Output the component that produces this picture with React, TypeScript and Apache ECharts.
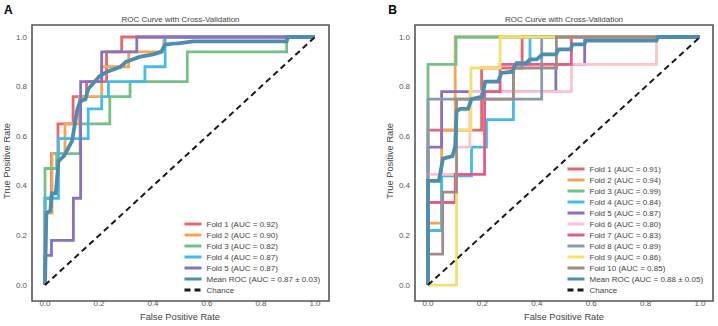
import { useEffect, useRef } from "react";
import * as echarts from "echarts";

const FONT = "'Liberation Sans', Arial, Helvetica, sans-serif";

type Pt = [number, number];

// ---------- Panel A: 5-fold cross-validation ----------
const foldA1: Pt[] = [[0, 0], [0, 0.35], [0.024, 0.35], [0.024, 0.53], [0.048, 0.53], [0.048, 0.65], [0.104, 0.65], [0.104, 0.76], [0.154, 0.76], [0.154, 0.82], [0.228, 0.82], [0.228, 0.94], [0.284, 0.94], [0.284, 1], [1, 1]];
const foldA2: Pt[] = [[0, 0], [0, 0.29], [0.026, 0.29], [0.026, 0.53], [0.074, 0.53], [0.074, 0.65], [0.127, 0.65], [0.127, 0.76], [0.21, 0.76], [0.21, 0.88], [0.31, 0.88], [0.31, 0.94], [0.44, 0.94], [0.44, 1], [1, 1]];
const foldA3: Pt[] = [[0, 0], [0, 0.47], [0.043, 0.47], [0.043, 0.53], [0.13, 0.53], [0.13, 0.65], [0.24, 0.65], [0.24, 0.76], [0.315, 0.76], [0.315, 0.82], [0.527, 0.82], [0.527, 0.94], [0.895, 0.94], [0.895, 1], [1, 1]];
const foldA4: Pt[] = [[0, 0], [0, 0.35], [0.05, 0.35], [0.05, 0.59], [0.16, 0.59], [0.16, 0.71], [0.21, 0.71], [0.21, 0.76], [0.235, 0.76], [0.235, 0.82], [0.37, 0.82], [0.37, 0.88], [0.445, 0.88], [0.445, 1], [1, 1]];
const foldA5: Pt[] = [[0, 0], [0, 0.12], [0.024, 0.12], [0.024, 0.18], [0.105, 0.18], [0.105, 0.35], [0.132, 0.35], [0.132, 0.82], [0.21, 0.82], [0.21, 0.94], [0.34, 0.94], [0.34, 1], [1, 1]];
const meanA: Pt[] = [[0, 0], [0.005, 0.29], [0.02, 0.3], [0.025, 0.37], [0.04, 0.37], [0.05, 0.5], [0.07, 0.52], [0.1, 0.58], [0.12, 0.71], [0.13, 0.74], [0.15, 0.75], [0.16, 0.79], [0.2, 0.84], [0.23, 0.86], [0.28, 0.88], [0.3, 0.9], [0.35, 0.92], [0.4, 0.93], [0.43, 0.94], [0.445, 0.97], [0.5, 0.975], [0.55, 0.982], [0.895, 0.982], [0.9, 1], [1, 1]];
const aucA = [0.92, 0.9, 0.82, 0.87, 0.87];
const meanAucA = "0.87 ± 0.03";

// ---------- Panel B: 10-fold cross-validation ----------
const foldB1: Pt[] = [[0, 0], [0, 0.625], [0.197, 0.625], [0.197, 0.875], [0.346, 0.875], [0.346, 1], [1, 1]];
const foldB2: Pt[] = [[0, 0], [0, 0.25], [0.05, 0.25], [0.05, 0.625], [0.1, 0.625], [0.1, 1], [1, 1]];
const foldB3: Pt[] = [[0, 0], [0, 0.89], [0.103, 0.89], [0.103, 1], [1, 1]];
const foldB4: Pt[] = [[0, 0], [0, 0.22], [0.05, 0.22], [0.05, 0.44], [0.16, 0.44], [0.16, 0.556], [0.215, 0.556], [0.215, 0.667], [0.314, 0.667], [0.314, 0.89], [0.375, 0.89], [0.375, 1], [1, 1]];
const foldB5: Pt[] = [[0, 0], [0, 0.556], [0.05, 0.556], [0.05, 0.78], [0.47, 0.78], [0.47, 0.89], [0.576, 0.89], [0.576, 1], [1, 1]];
const foldB6: Pt[] = [[0, 0], [0, 0.446], [0.105, 0.446], [0.105, 0.556], [0.154, 0.556], [0.154, 0.78], [0.527, 0.78], [0.527, 0.89], [0.84, 0.89], [0.84, 1], [1, 1]];
const foldB7: Pt[] = [[0, 0], [0, 0.333], [0.1, 0.333], [0.1, 0.446], [0.208, 0.446], [0.208, 0.78], [0.265, 0.78], [0.265, 0.89], [0.527, 0.89], [0.527, 1], [1, 1]];
const foldB8: Pt[] = [[0, 0], [0, 0.75], [0.418, 0.75], [0.418, 1], [1, 1]];
const foldB9: Pt[] = [[0, 0], [0.105, 0], [0.105, 0.625], [0.158, 0.625], [0.158, 0.875], [0.265, 0.875], [0.265, 1], [1, 1]];
const foldB10: Pt[] = [[0, 0], [0, 0.125], [0.054, 0.125], [0.054, 0.375], [0.105, 0.375], [0.105, 0.75], [0.314, 0.75], [0.314, 0.875], [0.472, 0.875], [0.472, 1], [1, 1]];
const meanB: Pt[] = [[0, 0], [0, 0.42], [0.04, 0.42], [0.055, 0.51], [0.09, 0.52], [0.1, 0.56], [0.105, 0.7], [0.118, 0.71], [0.147, 0.71], [0.16, 0.75], [0.2, 0.76], [0.21, 0.82], [0.257, 0.82], [0.27, 0.855], [0.31, 0.86], [0.325, 0.895], [0.36, 0.895], [0.375, 0.91], [0.4, 0.91], [0.42, 0.93], [0.47, 0.93], [0.48, 0.95], [0.525, 0.95], [0.53, 0.97], [0.575, 0.97], [0.58, 0.985], [0.84, 0.985], [0.845, 1], [1, 1]];
const aucB = [0.91, 0.94, 0.99, 0.84, 0.87, 0.8, 0.83, 0.89, 0.86, 0.85];
const meanAucB = "0.88 ± 0.05";

const chance: Pt[] = [[0, 0], [1, 1]];

const foldsA = [foldA1, foldA2, foldA3, foldA4, foldA5];
const foldsB = [foldB1, foldB2, foldB3, foldB4, foldB5, foldB6, foldB7, foldB8, foldB9, foldB10];

const palette = [
  "#e3686f", // red
  "#f6a556", // orange
  "#74c184", // green
  "#45bbec", // blue
  "#8c70c0", // purple
  "#ffc2c8", // light pink
  "#e85a8a", // magenta
  "#869cab", // slate
  "#f4e070", // yellow
  "#a28b85", // brown
];
const meanColor = "#4d8dae";

const axisTicks = [0, 0.2, 0.4, 0.6, 0.8, 1.0];

const fmt = (v: number) => v.toFixed(2);

function foldName(i: number, auc: number) {
  return `Fold ${i + 1} (AUC = ${fmt(auc)})`;
}

export default function App() {
  const ref = useRef<HTMLDivElement>(null);

  useEffect(() => {
    if (!ref.current) return;
    const chart = echarts.init(ref.current, undefined, { renderer: "svg" });

    const series: any[] = [];
    const legendA: string[] = [];
    const legendB: string[] = [];

    const line = (name: string, data: Pt[], color: string, width: number, idx: number, z: number, dashed = false) => ({
      type: "line",
      name,
      data,
      xAxisIndex: idx,
      yAxisIndex: idx,
      symbol: "none",
      showSymbol: false,
      clip: false,
      z,
      lineStyle: { color, width, type: dashed ? [6, 4] : "solid", cap: "butt", join: "miter" },
      itemStyle: { color },
      emphasis: { disabled: true },
    });

    foldsA.forEach((d, i) => {
      const n = foldName(i, aucA[i]);
      legendA.push(n);
      series.push(line(n, d, palette[i], 2.8, 0, 2 + i));
    });
    const meanNameA = `Mean ROC (AUC = ${meanAucA})`;
    legendA.push(meanNameA, "Chance");
    series.push(line(meanNameA, meanA, meanColor, 3.8, 0, 20));
    series.push(line("Chance", chance, "#1a1a1a", 2, 0, 21, true));

    foldsB.forEach((d, i) => {
      const n = foldName(i, aucB[i]) + "\u200b";
      legendB.push(n);
      series.push(line(n, d, palette[i], 2.8, 1, 2 + i));
    });
    const meanNameB = `Mean ROC (AUC = ${meanAucB})`;
    legendB.push(meanNameB, "Chance");
    series.push(line(meanNameB, meanB, meanColor, 3.8, 1, 20));
    series.push(line("Chance", chance, "#1a1a1a", 2, 1, 21, true));

    const grids = [
      { left: 45, top: 37, width: 270, height: 252 },
      { left: 428, top: 37, width: 272, height: 252 },
    ];
    const frames = [
      { x: 32, y: 25, width: 297, height: 276 },
      { x: 415, y: 25, width: 298, height: 276 },
    ];

    const labelStyle = { fontSize: 8, color: "#555", fontFamily: FONT };
    const nameStyle = { fontSize: 9.3, color: "#444", fontFamily: FONT };

    const xAxes = [0, 1].map((g) => ({
      type: "value",
      gridIndex: g,
      min: axisTicks[0],
      max: axisTicks[axisTicks.length - 1],
      interval: 0.2,
      axisLine: { show: false },
      axisTick: { show: false },
      splitLine: { show: false },
      axisLabel: { ...labelStyle, margin: 14, formatter: (v: number) => v.toFixed(1) },
      name: "False Positive Rate",
      nameLocation: "middle",
      nameGap: 23,
      nameTextStyle: nameStyle,
    }));
    const yAxes = [0, 1].map((g) => ({
      type: "value",
      gridIndex: g,
      min: axisTicks[0],
      max: axisTicks[axisTicks.length - 1],
      interval: 0.2,
      axisLine: { show: false },
      axisTick: { show: false },
      splitLine: { show: false },
      axisLabel: { ...labelStyle, margin: 18, formatter: (v: number) => v.toFixed(1) },
      name: "True Positive Rate",
      nameLocation: "middle",
      nameGap: 28,
      nameTextStyle: nameStyle,
    }));

    // line-only legend handles: the marker symbol is hidden
    const legendBase = {
      orient: "vertical",
      itemWidth: 17,
      itemHeight: 8,
      itemGap: 3,
      padding: 0,
      selectedMode: false,
      itemStyle: { opacity: 0, borderWidth: 0 },
      lineStyle: { width: 3 },
      textStyle: { fontSize: 8, color: "#444", fontFamily: FONT, lineHeight: 8 },
    };

    const text = (t: string, x: number, y: number, size: number, color: string, weight = "normal") => ({
      type: "text",
      x,
      y,
      silent: true,
      z: 100,
      style: {
        text: t,
        fontSize: size,
        fontFamily: FONT,
        fontWeight: weight,
        fill: color,
        align: "center",
        verticalAlign: "middle",
        textAlign: "center",
        textVerticalAlign: "middle",
      },
    });

    chart.setOption({
      animation: false,
      backgroundColor: "#ffffff",
      grid: grids,
      xAxis: xAxes,
      yAxis: yAxes,
      legend: [
        { ...legendBase, data: legendA, left: 183, top: 220 },
        { ...legendBase, data: legendB, left: 566, top: 165 },
      ],
      series,
      graphic: [
        ...frames.map((f) => ({
          type: "rect",
          silent: true,
          z: 50,
          shape: f,
          style: { fill: "none", stroke: "#555", lineWidth: 1.6 },
        })),
        text("ROC Curve with Cross-Validation", 180.5, 19, 8, "#444"),
        text("ROC Curve with Cross-Validation", 564, 19, 8, "#444"),
        text("A", 8.3, 9.5, 12, "#000", "bold"),
        text("B", 392.5, 9.5, 12, "#000", "bold"),
      ],
    });

    return () => chart.dispose();
  }, []);

  return (
    <div
      ref={ref}
      style={{ position: "fixed", left: 0, top: 0, width: 718, height: 326, background: "#fff" }}
    />
  );
}
